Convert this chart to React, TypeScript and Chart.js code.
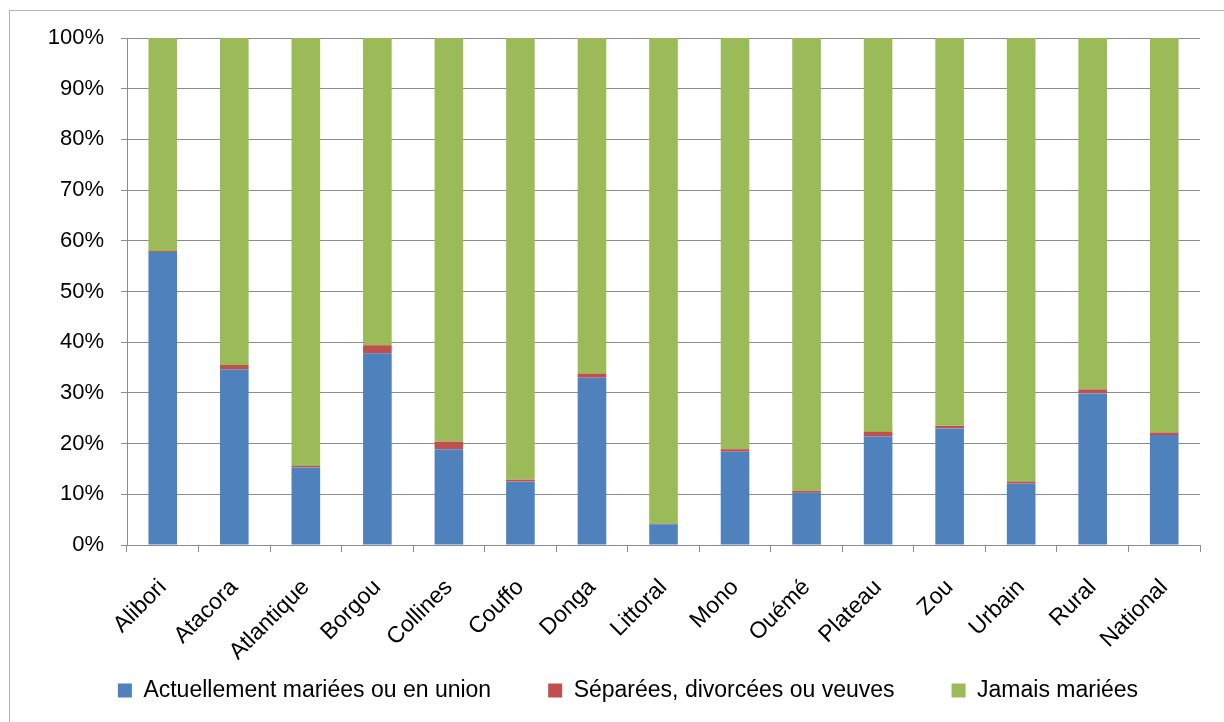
import React, { useEffect, useRef } from "react";
import { Chart, registerables } from "chart.js";

Chart.register(...registerables);

const categories = [
  "Alibori", "Atacora", "Atlantique", "Borgou", "Collines", "Couffo", "Donga",
  "Littoral", "Mono", "Ouémé", "Plateau", "Zou", "Urbain", "Rural", "National",
];

const marriedValues = [57.8, 34.6, 15.3, 37.8, 18.9, 12.5, 33.0, 4.1, 18.4, 10.3, 21.4, 23.0, 12.1, 29.9, 21.7];
const separatedValues = [0.2, 0.9, 0.3, 1.6, 1.5, 0.4, 0.8, 0.1, 0.5, 0.4, 0.9, 0.5, 0.4, 0.8, 0.5];
const neverValues = marriedValues.map((m, i) => +(100 - m - separatedValues[i]).toFixed(1));

const seriesLabels = [
  "Actuellement mariées ou en union",
  "Séparées, divorcées ou veuves",
  "Jamais mariées",
];
const seriesColors = ["#4F81BD", "#C0504D", "#9BBB59"];

const FONT = "'Liberation Sans', Arial, sans-serif";

const borderPlugin = {
  id: "outerBorder",
  beforeDraw(chart: any) {
    const ctx = chart.ctx;
    ctx.save();
    ctx.strokeStyle = "#b3b3b3";
    ctx.lineWidth = 1;
    ctx.strokeRect(9.5, 10.5, 1400, 900);
    ctx.restore();
  },
};

export default function App() {
  const ref = useRef<HTMLCanvasElement | null>(null);

  useEffect(() => {
    if (!ref.current) return;
    const chart = new Chart(ref.current, {
      type: "bar",
      data: {
        labels: categories,
        datasets: [
          { label: seriesLabels[0], data: marriedValues, backgroundColor: seriesColors[0] },
          { label: seriesLabels[1], data: separatedValues, backgroundColor: seriesColors[1] },
          { label: seriesLabels[2], data: neverValues, backgroundColor: seriesColors[2] },
        ],
      },
      options: {
        responsive: false,
        animation: false,
        devicePixelRatio: 1,
        layout: { padding: { left: 56, top: 38, right: 24, bottom: 10 } },
        datasets: { bar: { barPercentage: 0.4, categoryPercentage: 1 } },
        scales: {
          x: {
            stacked: true,
            grid: {
              offset: true,
              drawOnChartArea: false,
              drawTicks: true,
              tickLength: 7,
              color: "#8c8c8c",
            },
            border: { display: true, color: "#8c8c8c" },
            ticks: {
              maxRotation: 45,
              minRotation: 45,
              autoSkip: false,
              padding: 22,
              color: "#000",
              font: { family: FONT, size: 23 },
            },
            afterFit: (s: any) => {
              s.height = 77;
              s._computeLabelArea = () => undefined;
            },
          },
          y: {
            stacked: true,
            min: 0,
            max: 100,
            ticks: {
              stepSize: 10,
              padding: 17,
              color: "#000",
              font: { family: FONT, size: 22 },
              callback: (v: any) => v + "%",
            },
            grid: { color: "#8c8c8c", tickLength: 6, drawTicks: true },
            border: { display: true, color: "#8c8c8c" },
            afterFit: (s: any) => {
              s.width = 71;
              s._computeLabelArea = () => undefined;
            },
          },
        },
        plugins: {
          legend: {
            position: "bottom",
            labels: {
              boxWidth: 14,
              boxHeight: 14,
              padding: 57,
              color: "#000",
              font: { family: FONT, size: 23 },
            },
          },
          tooltip: { enabled: false },
        },
      },
      plugins: [borderPlugin],
    });
    return () => chart.destroy();
  }, []);

  return (
    <div style={{ position: "absolute", left: 0, top: 0, width: 1224, height: 722, background: "#fff" }}>
      <canvas ref={ref} width={1224} height={722} style={{ display: "block" }} />
    </div>
  );
}
